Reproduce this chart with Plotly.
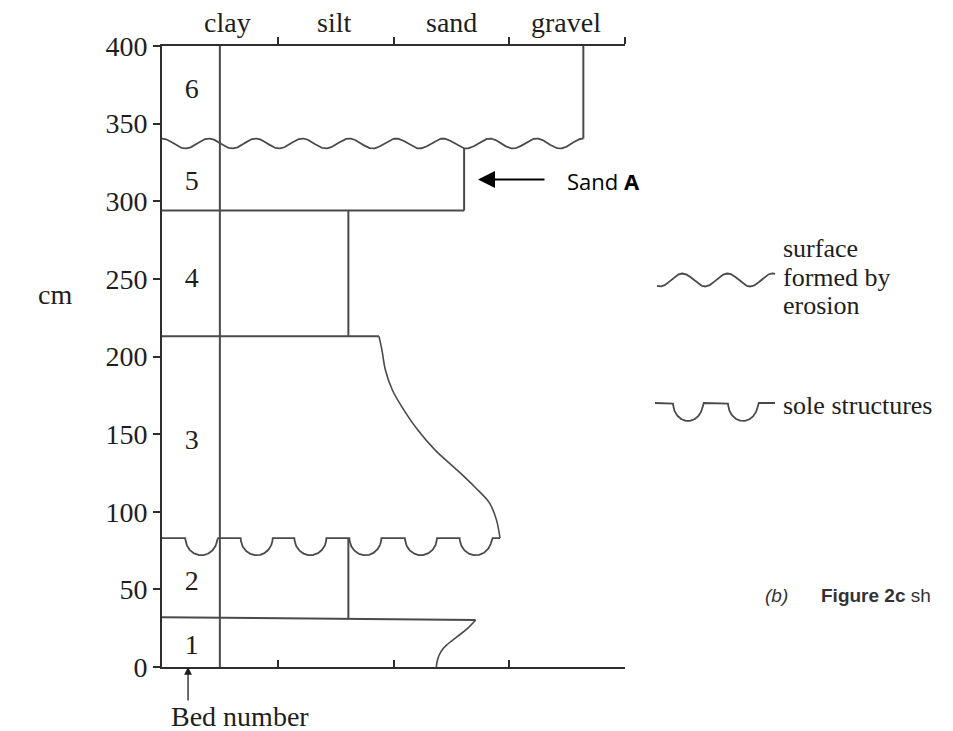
import numpy as np
import plotly.graph_objects as go

W, H = 953, 731

# ---------------- data ----------------
grain_labels = ["clay", "silt", "sand", "gravel"]
grain_label_x = [0.57, 1.49, 2.50, 3.49]
grain_ticks = [1, 2, 3, 4]
depth_ticks = [0, 50, 100, 150, 200, 250, 300, 350, 400]

bed_numbers = ["1", "2", "3", "4", "5", "6"]
bed_label_y = [13, 54, 145, 249, 312, 371]
bed_label_x = 0.257
bed_column_x = 0.5

bed1_top_y = [32.0, 30.3]
bed1_edge_x = [2.71, 2.64, 2.55, 2.46, 2.41, 2.38, 2.37]
bed1_edge_y = [30.3, 24.9, 19.5, 14.2, 9.9, 4.5, 0.0]

bed2_grain = 1.61
bed2_top = 83.0
sole_depth = 11.0
sole_centres = [0.340, 0.818, 1.282, 1.757, 2.237, 2.710]
sole_halfwidth = 0.138
sole_end = 2.92

bed3_top = 213.0
bed3_edge_x = [1.875, 1.90, 1.93, 1.99, 2.09, 2.21, 2.36, 2.55, 2.70, 2.83, 2.89, 2.92]
bed3_edge_y = [213.0, 204.2, 191.3, 178.4, 165.5, 152.6, 139.7, 126.8, 116.1, 105.6, 94.6, 83.0]

bed4_grain = 1.61
bed4_top = 294.0
bed5_grain = 2.61

erosion_mid = 337.2
erosion_amp = 3.2
erosion_waves = 9
bed6_grain = 3.64
top_depth = 400.0

LINE = "#4a4a4a"
AXIS = "#2e2e2e"
TXT = "#1e1e1e"
SERIF = "Liberation Serif"
FS = 28

# ---------------- geometry helpers ----------------
def erosion_y(x):
    period = bed6_grain / erosion_waves
    return erosion_mid + erosion_amp * np.cos(2 * np.pi * np.asarray(x) / period)

def sole_line(x0, x1, top, depth, centres, hw, n=1500):
    xs = np.linspace(x0, x1, n)
    ys = np.full_like(xs, top)
    for c in centres:
        u = (xs - c) / hw
        m = np.abs(u) < 1
        ys[m] = top - depth * np.sqrt(1 - u[m] ** 2)
    return xs, ys

fig = go.Figure()

def add_line(xs, ys, width=2.0, xa="x", ya="y", color=LINE, shape="linear"):
    fig.add_trace(go.Scatter(x=list(xs), y=list(ys), mode="lines",
                             line=dict(color=color, width=width, shape=shape),
                             xaxis=xa, yaxis=ya, hoverinfo="skip", showlegend=False))

# bed number column divider
add_line([bed_column_x, bed_column_x], [0, top_depth])
# bed 1
add_line([0, bed1_edge_x[0]], bed1_top_y)
add_line(bed1_edge_x, bed1_edge_y, width=1.6, shape="spline")
# bed 2
b1_at = np.interp(bed2_grain, [0, bed1_edge_x[0]], bed1_top_y)
add_line([bed2_grain, bed2_grain], [b1_at, bed2_top])
sx, sy = sole_line(0, sole_end, bed2_top, sole_depth, sole_centres, sole_halfwidth)
add_line(sx, sy, width=1.8)
# bed 3
add_line([0, bed3_edge_x[0]], [bed3_top, bed3_top])
add_line(bed3_edge_x, bed3_edge_y, width=1.6, shape="spline")
# bed 4
add_line([bed4_grain, bed4_grain], [bed3_top, bed4_top])
add_line([0, bed5_grain], [bed4_top, bed4_top])
# bed 5
add_line([bed5_grain, bed5_grain], [bed4_top, float(erosion_y(bed5_grain))])
# erosion surface
ex = np.linspace(0, bed6_grain, 900)
add_line(ex, erosion_y(ex), width=1.8)
# bed 6
add_line([bed6_grain, bed6_grain], [float(erosion_y(bed6_grain)), top_depth])

# bed numbers
fig.add_trace(go.Scatter(x=[bed_label_x] * len(bed_numbers), y=bed_label_y,
                         mode="text", text=bed_numbers,
                         textfont=dict(family=SERIF, size=FS, color=TXT),
                         hoverinfo="skip", showlegend=False))

# dummy trace for the top axis
fig.add_trace(go.Scatter(x=[0], y=[0], mode="markers", marker=dict(opacity=0),
                         xaxis="x2", yaxis="y", hoverinfo="skip", showlegend=False))

# ---------------- legend symbols (pixel overlay) ----------------
lx = np.linspace(657, 775, 400)
add_line(lx, 280 + 6.5 * np.cos(2 * np.pi * (lx - 705) / 45), width=1.8, xa="x3", ya="y3")
px, py = sole_line(655, 775, 403, -18, [688, 743], 15)
add_line(px, py, width=1.8, xa="x3", ya="y3")

# ---------------- layout ----------------
xdom = [162 / W, 625 / W]
ydom = [(H - 667) / H, (H - 46) / H]

fig.update_layout(
    width=W, height=H, margin=dict(l=0, r=0, t=0, b=0, autoexpand=False),
    paper_bgcolor="white", plot_bgcolor="rgba(0,0,0,0)", showlegend=False,
    xaxis=dict(domain=xdom, range=[0, 4], showgrid=False, zeroline=False,
               showline=True, linecolor=AXIS, linewidth=2, automargin=False,
               ticks="inside", tickvals=grain_ticks, ticklen=7, tickwidth=2,
               tickcolor=AXIS, showticklabels=False, anchor="y"),
    xaxis2=dict(overlaying="x", side="top", range=[0, 4], showgrid=False, zeroline=False,
                showline=True, linecolor=AXIS, linewidth=2, automargin=False,
                ticks="outside", tickvals=grain_ticks, ticklen=7, tickwidth=2,
                tickcolor=AXIS, showticklabels=False, anchor="y"),
    yaxis=dict(domain=ydom, range=[0, 400], showgrid=False, zeroline=False,
               showline=True, linecolor=AXIS, linewidth=2, automargin=False,
               ticks="outside", tickvals=depth_ticks, ticklen=7, tickwidth=2,
               tickcolor=AXIS, tickfont=dict(family=SERIF, size=FS, color=TXT),
               anchor="x"),
    xaxis3=dict(domain=[0, 1], range=[0, W], visible=False, anchor="y3", automargin=False),
    yaxis3=dict(domain=[0, 1], range=[H, 0], visible=False, anchor="x3", automargin=False),
)

ann = []
for lab, gx in zip(grain_labels, grain_label_x):
    ann.append(dict(x=gx, y=(H - 22) / H, xref="x", yref="paper", text=lab,
                    showarrow=False, xanchor="center", yanchor="middle",
                    font=dict(family=SERIF, size=FS, color=TXT)))

ann.append(dict(x=55 / W, y=(H - 295) / H, xref="paper", yref="paper", text="cm",
                showarrow=False, xanchor="center", yanchor="middle",
                font=dict(family=SERIF, size=FS, color=TXT)))

legend_lines = ["surface", "formed by", "erosion"]
legend_line_px = [248, 277, 305]
for t, yy in zip(legend_lines, legend_line_px):
    ann.append(dict(x=781 / W, y=(H - yy) / H, xref="paper", yref="paper", text=t,
                    showarrow=False, xanchor="left", yanchor="middle", height=27,
                    font=dict(family=SERIF, size=26, color=TXT)))
ann.append(dict(x=781 / W, y=(H - 405) / H, xref="paper", yref="paper",
                text="sole structures", showarrow=False, xanchor="left", yanchor="middle",
                font=dict(family=SERIF, size=26, color=TXT)))

# Bed number arrow + label
ann.append(dict(x=0.225, y=0, xref="x", yref="y", text="", showarrow=True,
                ax=0, ay=35, arrowhead=2, arrowsize=1.2, arrowwidth=1.3, arrowcolor=TXT))
ann.append(dict(x=240 / W, y=(H - 716) / H, xref="paper", yref="paper", text="Bed number",
                showarrow=False, xanchor="center", yanchor="middle",
                font=dict(family=SERIF, size=FS, color=TXT)))

# Sand A arrow + label
ann.append(dict(x=2.73, y=314, xref="x", yref="y", text="", showarrow=True,
                ax=68, ay=0, arrowhead=2, arrowsize=1.7, arrowwidth=2, arrowcolor="#000"))
ann.append(dict(x=565 / W, y=(H - 181) / H, xref="paper", yref="paper",
                text="Sand <b>A</b>", showarrow=False, xanchor="left", yanchor="middle",
                font=dict(family="Open Sans", size=22, color="#000")))

# (b) Figure 2c sh
ann.append(dict(x=763 / W, y=(H - 595) / H, xref="paper", yref="paper", text="<i>(b)</i>",
                showarrow=False, xanchor="left", yanchor="middle",
                font=dict(family="Liberation Sans", size=19, color="#333")))
ann.append(dict(x=819 / W, y=(H - 595) / H, xref="paper", yref="paper",
                text="<b>Figure 2c</b> sh", showarrow=False, xanchor="left", yanchor="middle",
                font=dict(family="Liberation Sans", size=19, color="#333")))

fig.update_layout(annotations=ann)

fig.write_html("out.html")
